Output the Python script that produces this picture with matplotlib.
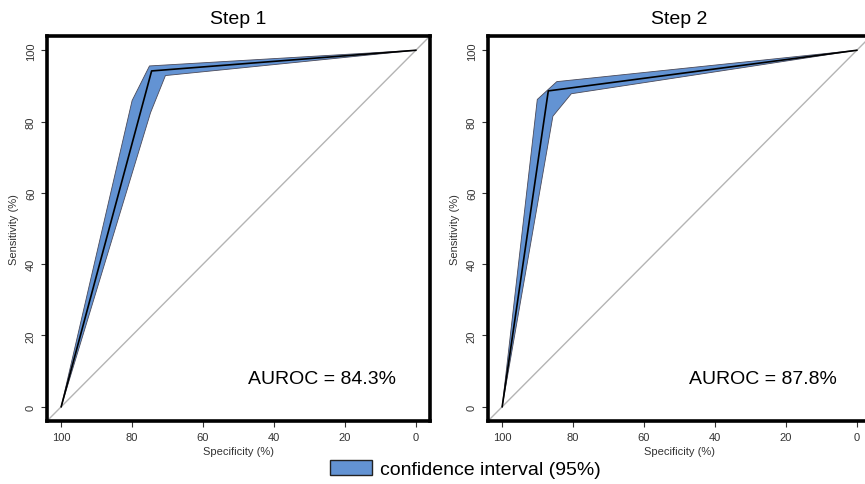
import matplotlib
matplotlib.use("Agg")
import matplotlib.pyplot as plt
from matplotlib.patches import Patch

plt.rcParams['font.family'] = ['Liberation Sans', 'DejaVu Sans']

# ------------------------------------------------------------
# ROC data (specificity %, sensitivity %)
# ------------------------------------------------------------
titles = ["Step 1", "Step 2"]
auroc_labels = ["AUROC = 84.3%", "AUROC = 87.8%"]

roc_spec = [[100, 74.5, 0], [100, 87.0, 0]]
roc_sens = [[0, 94.2, 100], [0, 88.6, 100]]

ci_upper_spec = [[100, 80.0, 75.1, 0], [100, 90.1, 84.6, 0]]
ci_upper_sens = [[0, 85.9, 95.6, 100], [0, 86.2, 91.2, 100]]
ci_lower_spec = [[100, 74.8, 70.6, 0], [100, 85.7, 80.5, 0]]
ci_lower_sens = [[0, 82.5, 92.9, 100], [0, 81.5, 87.8, 100]]

xticks = [100, 80, 60, 40, 20, 0]
yticks = [0, 20, 40, 60, 80, 100]

band_color = "#6393d3"

fig = plt.figure(figsize=(8.65, 4.85), dpi=100)
positions = [[47 / 865, 63 / 485, 383 / 865, 385 / 485],
             [488 / 865, 63 / 485, 383 / 865, 385 / 485]]

for i in range(2):
    ax = fig.add_axes(positions[i])
    ax.set_xlim(104, -4)
    ax.set_ylim(-4, 104)

    # chance diagonal
    ax.plot([104, -4], [-4, 104], color="#b4b4b4", lw=1.0, zorder=1)

    # confidence band
    poly_x = ci_upper_spec[i] + ci_lower_spec[i][::-1]
    poly_y = ci_upper_sens[i] + ci_lower_sens[i][::-1]
    ax.fill(poly_x, poly_y, facecolor=band_color, edgecolor="#4a4a5a",
            lw=0.6, zorder=2)

    # ROC curve
    ax.plot(roc_spec[i], roc_sens[i], color="black", lw=1.2, zorder=3)

    ax.text(0.525, 0.11, auroc_labels[i], transform=ax.transAxes,
            fontsize=14, ha="left", va="center")
    ax.set_title(titles[i], fontsize=14, pad=9)

    ax.set_xticks(xticks)
    ax.set_yticks(yticks)
    ax.set_xticklabels([str(t) for t in xticks], fontsize=8, color="#333333")
    ax.set_yticklabels([str(t) for t in yticks], fontsize=8, color="#333333",
                       rotation=90, va="center")
    ax.tick_params(direction="out", length=4, width=0.8, pad=4,
                   colors="#333333")
    ax.set_xlabel("Specificity (%)", fontsize=8, labelpad=3, color="#333333")
    ax.set_ylabel("Sensitivity (%)", fontsize=8, labelpad=5, color="#333333")
    for sp in ax.spines.values():
        sp.set_linewidth(2.6)

handle = Patch(facecolor=band_color, edgecolor="#222222", lw=1.0)
fig.legend([handle], ["confidence interval (95%)"], loc="center left",
           bbox_to_anchor=(330 / 865, 1 - 470 / 485), frameon=False,
           fontsize=14, handlelength=2.15, handleheight=0.85,
           handletextpad=0.4, borderpad=0, borderaxespad=0)

fig.savefig("out.png", dpi=100)
